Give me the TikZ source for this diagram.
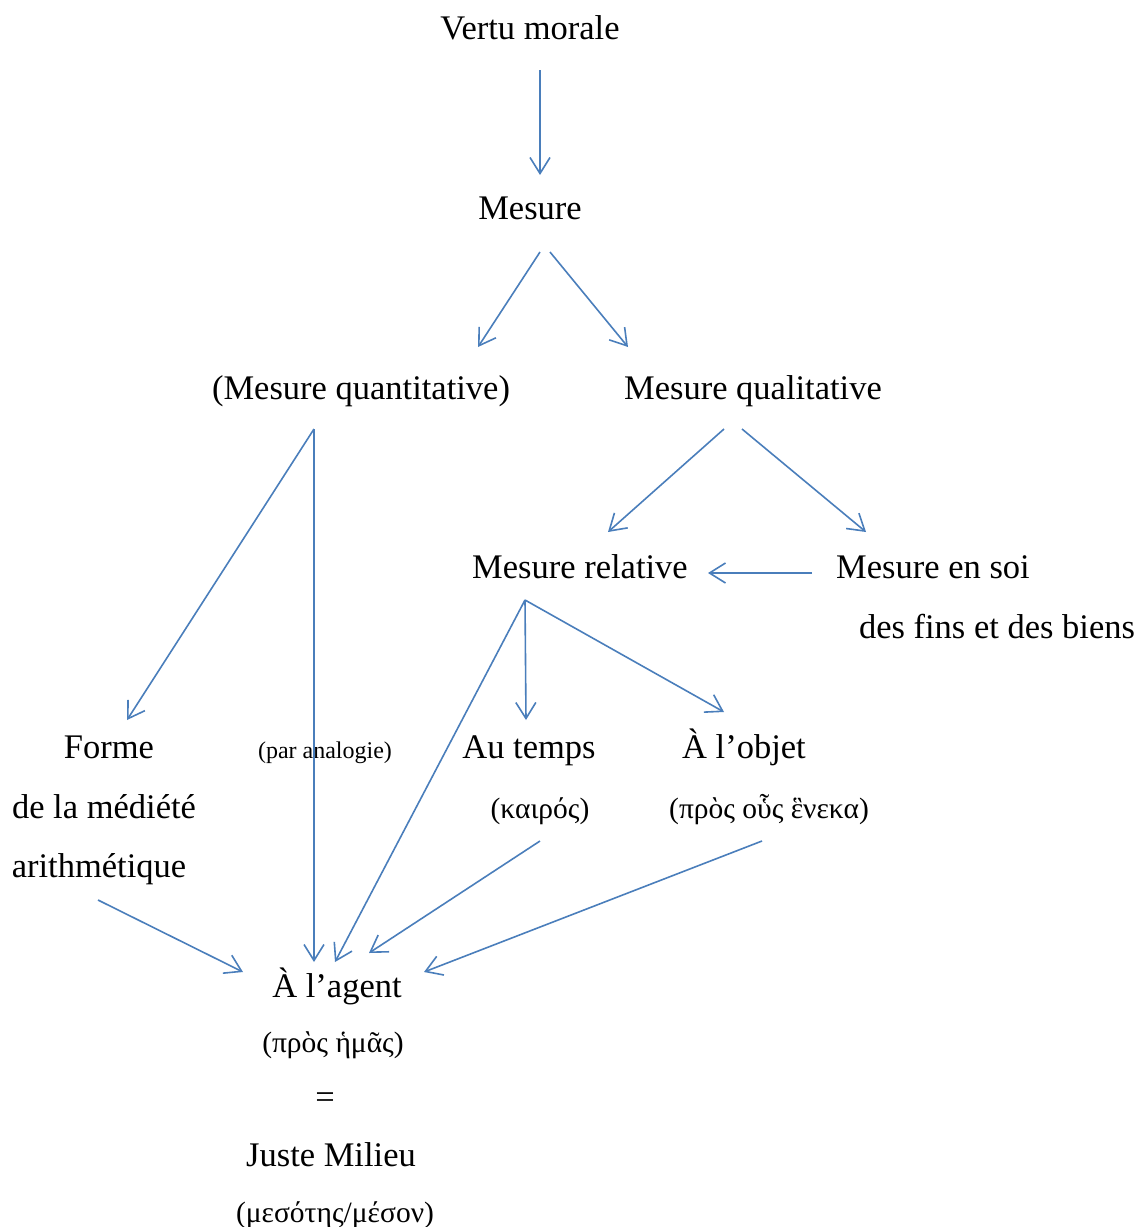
\documentclass[tikz,border=0pt]{standalone}
\usepackage{fontspec}
\setmainfont{Liberation Serif}
\usetikzlibrary{arrows.meta}
\definecolor{arrowblue}{HTML}{4A7EBB}
\tikzset{
  big/.style={anchor=base, inner sep=0pt, font=\fontsize{34.5}{40}\selectfont},
  small/.style={anchor=base, inner sep=0pt, font=\fontsize{24}{28}\selectfont},
  greek/.style={anchor=base, inner sep=0pt, font=\fontsize{29.5}{34}\selectfont},
  arr/.style={draw=arrowblue, line width=1.6pt, -{Straight Barb[length=16pt,width=20pt,line width=1.6pt]}}
}
\begin{document}
\begin{tikzpicture}[x=1pt,y=-1pt]
\useasboundingbox (0,0) rectangle (1139,1227);
% text nodes (positioned at baselines)
\node[big] (vertu) at (530,39) {Vertu morale};
\node[big] (mesure) at (530,219) {Mesure};
\node[big] (quant) at (361,399) {(Mesure quantitative)};
\node[big] (qual) at (753,399) {Mesure qualitative};
\node[big] (rel) at (580,578) {Mesure relative};
\node[big] (soi) at (933,578) {Mesure en soi};
\node[big] (fins) at (997,638) {des fins et des biens};
\node[big] (forme) at (109,758) {Forme};
\node[big] (mediete) at (104,818) {de la médiété};
\node[big] (arith) at (99,877) {arithmétique};
\node[small] (analogie) at (325,758) {(par analogie)};
\node[big] (temps) at (529,758) {Au temps};
\node[big] (objet) at (744,758) {À l’objet};
\node[greek] (kairos) at (540,818) {(καιρός)};
\node[greek] (heneka) at (769,818) {(πρὸς οὗς ἓνεκα)};
\node[big] (agent) at (337,997) {À l’agent};
\node[greek] (hemas) at (333,1052) {(πρὸς ἡμᾶς)};
\node[big] (egal) at (325,1108) {=};
\node[big] (milieu) at (331,1166) {Juste Milieu};
\node[greek] (meson) at (335,1222) {(μεσότης/μέσον)};
% connectors
\draw[arr] ([shift={(10,31)}]vertu.base) -- ([shift={(10,-44)}]mesure.base);
\draw[arr] ([shift={(10,33)}]mesure.base) -- ([shift={(117,-52)}]quant.base);
\draw[arr] ([shift={(20,33)}]mesure.base) -- ([shift={(267,-52)}]quant.base);
\draw[arr] ([shift={(-29,30)}]qual.base) -- ([shift={(28,-46)}]rel.base);
\draw[arr] ([shift={(-11,30)}]qual.base) -- ([shift={(-67,-46)}]soi.base);
\draw[arr] ([shift={(-121,-5)}]soi.base) -- ([shift={(128,-5)}]rel.base);
\draw[arr] ([shift={(-47,30)}]quant.base) -- ([shift={(18,-38)}]forme.base);
\draw[arr] ([shift={(-47,30)}]quant.base) -- ([shift={(-23,-35)}]agent.base);
\draw[arr] ([shift={(-55,22)}]rel.base) -- ([shift={(-3,-38)}]temps.base);
\draw[arr] ([shift={(-55,22)}]rel.base) -- ([shift={(-20,-46)}]objet.base);
\draw[arr] ([shift={(-55,22)}]rel.base) -- ([shift={(-2,-35)}]agent.base);
\draw[arr] ([shift={(-1,23)}]arith.base) -- ([shift={(-94,-25)}]agent.base);
\draw[arr] ([shift={(0,23)}]kairos.base) -- ([shift={(32,-44)}]agent.base);
\draw[arr] ([shift={(-7,23)}]heneka.base) -- ([shift={(87,-25)}]agent.base);
\end{tikzpicture}
\end{document}
